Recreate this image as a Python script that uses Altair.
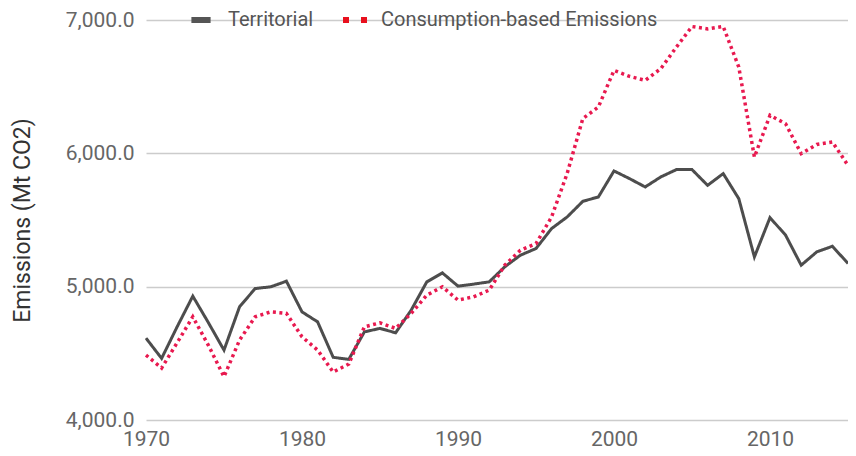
import altair as alt
import pandas as pd

years = list(range(1970, 2016))
territorial = [4614, 4462, 4700, 4929, 4730, 4524, 4850, 4986, 4999, 5041,
               4811, 4736, 4470, 4455, 4661, 4687, 4654, 4824, 5036, 5103,
               5004, 5019, 5036, 5149, 5236, 5286, 5436, 5523, 5640, 5673,
               5868, 5810, 5748, 5823, 5878, 5878, 5760, 5848, 5660, 5223,
               5518, 5386, 5161, 5261, 5303, 5174]
consumption = [4487, 4390, 4580, 4774, 4560, 4325, 4600, 4774, 4811, 4800,
               4624, 4524, 4360, 4420, 4699, 4729, 4687, 4800, 4936, 4999,
               4899, 4924, 4974, 5161, 5273, 5323, 5523, 5850, 6260, 6348,
               6622, 6577, 6547, 6635, 6797, 6951, 6933, 6951, 6647, 5972,
               6285, 6222, 5998, 6067, 6085, 5910]
series_names = ["Territorial", "Consumption-based Emissions"]
series_colors = ["#4d4d4d", "#e8194f"]
legend_colors = ["#555555", "#e8101e"]
x_ticks = [1970, 1980, 1990, 2000, 2010]
y_ticks = [4000, 5000, 6000, 7000]

df_t = pd.DataFrame({"year": years, "value": territorial, "series": series_names[0]})
df_c = pd.DataFrame({"year": years, "value": consumption, "series": series_names[1]})
df = pd.concat([df_t, df_c])

FONT = "Roboto"

x_enc = alt.X("year:Q",
              scale=alt.Scale(domain=[1970, 2015], nice=False, zero=False),
              axis=alt.Axis(values=x_ticks, format="d", title=None, grid=False,
                            domain=False, ticks=False, labelPadding=8, labelFlush=False,
                            labelFontSize=21, labelColor="#666666", labelFont=FONT))
y_enc = alt.Y("value:Q",
              scale=alt.Scale(domain=[4000, 7000], nice=False, zero=False),
              axis=alt.Axis(values=y_ticks, format=",.1f", title="Emissions (Mt CO2)",
                            grid=True, gridColor="#cccccc", gridWidth=1.5,
                            domain=False, ticks=False, labelPadding=12, labelFlush=False,
                            labelFontSize=21, labelColor="#666666", labelFont=FONT,
                            titleFontSize=23, titleFont=FONT, titleFontWeight="normal",
                            titleColor="#333333", titleX=-112))

lines = alt.Chart(df).mark_line(strokeCap="butt").encode(
    x=x_enc, y=y_enc,
    stroke=alt.Stroke("series:N", scale=alt.Scale(domain=series_names, range=series_colors),
                      legend=None),
    strokeDash=alt.StrokeDash("series:N",
                              scale=alt.Scale(domain=series_names, range=[[1, 0], [3, 3.5]]),
                              legend=None),
    strokeWidth=alt.StrokeWidth("series:N",
                                scale=alt.Scale(domain=series_names, range=[3, 3.5]),
                                legend=None),
)


def legend_layer(data, name, color, path, lx, offset):
    leg = alt.Legend(title=None, orient="none", direction="horizontal",
                     legendX=lx, legendY=-12, labelFontSize=20, labelFont=FONT,
                     labelColor="#555555", symbolSize=576, labelOffset=offset,
                     labelLimit=0, symbolOpacity=1, symbolType=path,
                     symbolStrokeWidth=0)
    return alt.Chart(data).mark_point(filled=True, size=0, strokeWidth=0).encode(
        x=x_enc, y=y_enc,
        fill=alt.Fill("series:N", scale=alt.Scale(domain=[name], range=[color]),
                      legend=leg),
    )


leg_t = legend_layer(df_t, series_names[0], legend_colors[0],
                     "M-0.8,-0.25H0.8V0.25H-0.8Z", 43, 15)
leg_c = legend_layer(df_c, series_names[1], legend_colors[1],
                     "M-1,-0.25H-0.5V0.25H-1Z M0.5,-0.25H1V0.25H0.5Z", 197, 14)

chart = alt.layer(lines, leg_t, leg_c).resolve_scale(
    fill="independent"
).resolve_legend(fill="independent").properties(
    width=702, height=400,
    autosize=alt.AutoSizeParams(type="none"),
    padding={"left": 138, "top": 12, "right": 0, "bottom": 30},
    background="white",
).configure_view(stroke=None)

chart.save("out.html", embed_options={"renderer": "svg", "actions": False})
